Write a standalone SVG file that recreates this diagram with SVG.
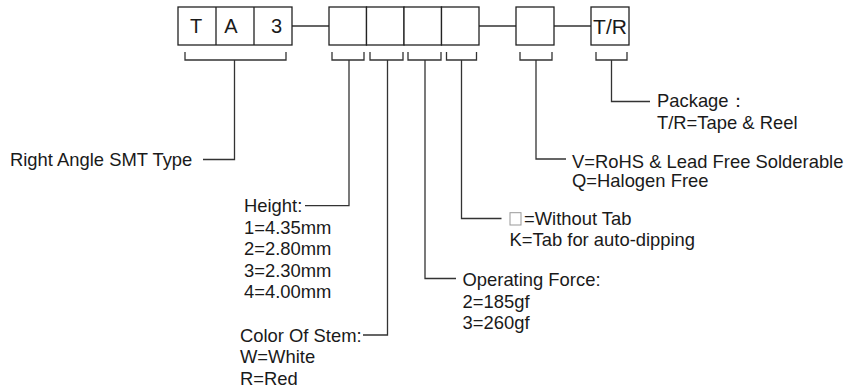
<svg xmlns="http://www.w3.org/2000/svg" width="865" height="392" viewBox="0 0 865 392">
<style>
.box{fill:#fff;stroke:#222;stroke-width:1.3}
.ln{fill:none;stroke:#333;stroke-width:1.3}
.t{font-family:"Liberation Sans",Arial,sans-serif;font-size:18.4px;fill:#1a1a1a}
.bt{font-family:"Liberation Sans",Arial,sans-serif;font-size:20px;fill:#1a1a1a;text-anchor:middle}
</style>
<rect width="865" height="392" fill="#fff"/>
<g id="connectors">
<path class="ln" d="M292 26H329M479 26H516M554 26H591"/>
<path class="ln" d="M185 52V60H286V52M234.5 60V159.5H203"/>
<path class="ln" d="M332 52V60H364V52M349 60V205.7H305"/>
<path class="ln" d="M370 52V60H403V52M387.5 60V335H363"/>
<path class="ln" d="M408 52V60H441V52M425 60V278.5H456"/>
<path class="ln" d="M446.5 52V60H476.5V52M461.5 60V218.5H501.5"/>
<path class="ln" d="M520 52V60H552V52M536 60V159H566"/>
<path class="ln" d="M596 52V60H627V52M611.5 60V101.5H650"/>
</g>
<g id="node-ta3">
<rect class="box" x="178" y="7" width="114" height="38"/>
<path class="ln" d="M216 7V45M254 7V45" style="stroke:#222"/>
<text class="bt" x="196" y="33">T</text>
<text class="bt" x="231" y="33">A</text>
<text class="bt" x="276.5" y="33">3</text>
</g>
<g id="node-height"><rect class="box" x="329" y="7" width="37.5" height="38"/></g>
<g id="node-color"><rect class="box" x="366.5" y="7" width="37.5" height="38"/></g>
<g id="node-force"><rect class="box" x="404" y="7" width="37.5" height="38"/></g>
<g id="node-tab"><rect class="box" x="441.5" y="7" width="37.5" height="38"/></g>
<g id="node-rohs"><rect class="box" x="516" y="7" width="38" height="38"/></g>
<g id="node-pkg"><rect class="box" x="591" y="7" width="38" height="38"/>
<text class="bt" x="610" y="34" style="font-size:21px">T/R</text></g>
<g id="label-type"><text class="t" x="10" y="165.5">Right Angle SMT Type</text></g>
<g id="label-height">
<text class="t" x="244" y="212">Height:</text>
<text class="t" x="244" y="233.5">1=4.35mm</text>
<text class="t" x="244" y="255">2=2.80mm</text>
<text class="t" x="244" y="276.5">3=2.30mm</text>
<text class="t" x="244" y="298">4=4.00mm</text>
</g>
<g id="label-color">
<text class="t" x="240" y="341.5">Color Of Stem:</text>
<text class="t" x="240" y="363">W=White</text>
<text class="t" x="240" y="384.5">R=Red</text>
</g>
<g id="label-force">
<text class="t" x="462.5" y="285.5">Operating Force:</text>
<text class="t" x="462.5" y="307.5">2=185gf</text>
<text class="t" x="462.5" y="329">3=260gf</text>
</g>
<g id="label-tab">
<rect x="510" y="212.7" width="11" height="12.3" fill="#fff" stroke="#999" stroke-width="1"/>
<text class="t" x="524" y="225">=Without Tab</text>
<text class="t" x="509.5" y="245.5">K=Tab for auto-dipping</text>
</g>
<g id="label-rohs">
<text class="t" x="572" y="167.5">V=RoHS &amp; Lead Free Solderable</text>
<text class="t" x="572" y="187">Q=Halogen Free</text>
</g>
<g id="label-pkg">
<text class="t" x="657" y="107">Package：</text>
<text class="t" x="657" y="128.5">T/R=Tape &amp; Reel</text>
</g>
</svg>
